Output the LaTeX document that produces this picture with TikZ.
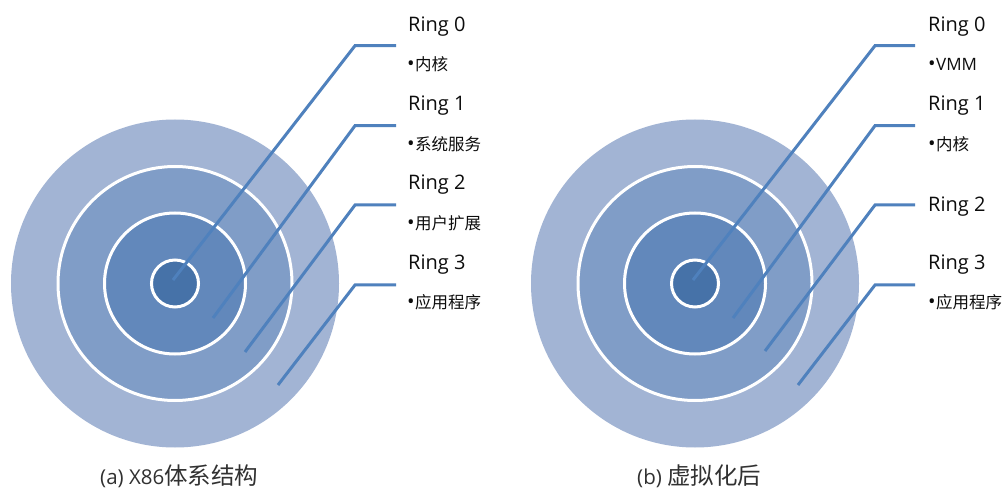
\documentclass[tikz,border=0pt]{standalone}
\usepackage{fontspec}
\setmainfont{Open Sans}
\newfontfamily\cjk{Noto Sans CJK SC}
\definecolor{cthree}{HTML}{A2B4D4}
\definecolor{ctwo}{HTML}{809DC7}
\definecolor{cone}{HTML}{6288BB}
\definecolor{czero}{HTML}{4672A8}
\definecolor{lineblue}{HTML}{4F81BD}
\definecolor{txt}{HTML}{0D0D0D}
\newcommand{\itembul}{{\fontsize{20bp}{20bp}\selectfont •}\hspace{0.5bp}}
\newcommand{\cjkitem}[1]{{\cjk\fontsize{16.5bp}{20bp}\selectfont #1}}
\begin{document}
\begin{tikzpicture}[x=1bp,y=-1bp,
  ringlabel/.style={anchor=base west, inner sep=0pt, text=txt, font=\fontsize{20bp}{22bp}\selectfont},
  itemlabel/.style={anchor=base west, inner sep=0pt, text=txt, font=\fontsize{17bp}{20bp}\selectfont},
  caption/.style={anchor=base west, inner sep=0pt, text=txt!85, font=\fontsize{20.5bp}{24bp}\selectfont},
  leader/.style={draw=lineblue, line width=3bp},
  ringdisc/.style={draw=white, line width=3bp}]
\useasboundingbox (0,0) rectangle (1005,488);
\fill[white] (0,0) rectangle (1005,488);

% ---------------- left diagram ----------------
\coordinate (cL) at (175,283.5);
\fill[cthree] (cL) circle (164);
\filldraw[ringdisc, fill=ctwo] (cL) circle (117);
\filldraw[ringdisc, fill=cone] (cL) circle (70.5);
\filldraw[ringdisc, fill=czero] (cL) circle (23.5);

\coordinate (Ls0) at (173,280);  \coordinate (Le0) at (355,45.7);  \coordinate (Lt0) at (396,45.7);
\coordinate (Ls1) at (213,318);  \coordinate (Le1) at (355,125.7); \coordinate (Lt1) at (396,125.7);
\coordinate (Ls2) at (245,352);  \coordinate (Le2) at (355,205);   \coordinate (Lt2) at (396,205);
\coordinate (Ls3) at (278,385);  \coordinate (Le3) at (355,285);   \coordinate (Lt3) at (396,285);
\draw[leader] (Ls0) -- (Le0) -- (Lt0);
\draw[leader] (Ls1) -- (Le1) -- (Lt1);
\draw[leader] (Ls2) -- (Le2) -- (Lt2);
\draw[leader] (Ls3) -- (Le3) -- (Lt3);

\node[ringlabel] (LR0) at (408,31.7) {Ring 0};
\node[itemlabel] (LI0) at (407,71) {\itembul\cjkitem{内核}};
\node[ringlabel] (LR1) at (408,111) {Ring 1};
\node[itemlabel] (LI1) at (407,150.5) {\itembul\cjkitem{系统服务}};
\node[ringlabel] (LR2) at (408,190) {Ring 2};
\node[itemlabel] (LI2) at (407,230) {\itembul\cjkitem{用户扩展}};
\node[ringlabel] (LR3) at (408,269.3) {Ring 3};
\node[itemlabel] (LI3) at (407,309) {\itembul\cjkitem{应用程序}};

\node[caption] (capL) at (100,484) {(a) X86{\cjk\fontsize{23.5bp}{24bp}\selectfont 体系结构}};

% ---------------- right diagram ----------------
\coordinate (cR) at (695,283.5);
\fill[cthree] (cR) circle (164);
\filldraw[ringdisc, fill=ctwo] (cR) circle (117);
\filldraw[ringdisc, fill=cone] (cR) circle (70.5);
\filldraw[ringdisc, fill=czero] (cR) circle (23.5);

\coordinate (Rs0) at (693,280);  \coordinate (Re0) at (875,45.7);  \coordinate (Rt0) at (915,45.7);
\coordinate (Rs1) at (733,318);  \coordinate (Re1) at (875,125.7); \coordinate (Rt1) at (915,125.7);
\coordinate (Rs2) at (765,351);  \coordinate (Re2) at (875,205);   \coordinate (Rt2) at (915,205);
\coordinate (Rs3) at (798,385);  \coordinate (Re3) at (875,285);   \coordinate (Rt3) at (915,285);
\draw[leader] (Rs0) -- (Re0) -- (Rt0);
\draw[leader] (Rs1) -- (Re1) -- (Rt1);
\draw[leader] (Rs2) -- (Re2) -- (Rt2);
\draw[leader] (Rs3) -- (Re3) -- (Rt3);

\node[ringlabel] (RR0) at (928,31.7) {Ring 0};
\node[itemlabel] (RI0) at (928,71) {\itembul VMM};
\node[ringlabel] (RR1) at (928,111) {Ring 1};
\node[itemlabel] (RI1) at (928,150.5) {\itembul\cjkitem{内核}};
\node[ringlabel] (RR2) at (928,211.7) {Ring 2};
\node[ringlabel] (RR3) at (928,269.3) {Ring 3};
\node[itemlabel] (RI3) at (928,309) {\itembul\cjkitem{应用程序}};

\node[caption] (capR) at (637,484) {(b) {\cjk\fontsize{23.5bp}{24bp}\selectfont 虚拟化后}};
\end{tikzpicture}
\end{document}
